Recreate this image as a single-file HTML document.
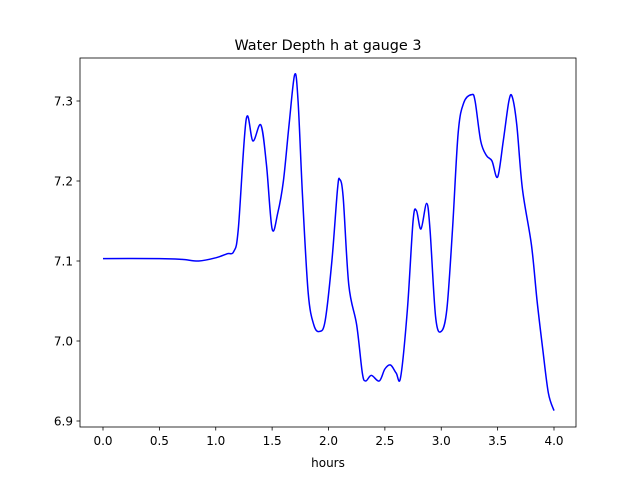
<!DOCTYPE html>
<html><head><meta charset="utf-8"><style>
body{margin:0;background:#fff;}
svg text{font-family:"DejaVu Sans","Liberation Sans",sans-serif;fill:#000;}
</style></head><body>
<svg id="chart" width="640" height="480" xmlns="http://www.w3.org/2000/svg">
<rect width="640" height="480" fill="#fff"/>
<text x="328" y="50" font-size="14.4" text-anchor="middle">Water Depth h at gauge 3</text>
<g id="xt"></g>
<g id="yt"></g>
<path id="line" fill="none" stroke="#0000ff" stroke-width="1.5"/>
<rect x="80" y="58" width="496" height="369" fill="none" stroke="#000" stroke-width="0.8"/>
<text x="328" y="467" font-size="12" text-anchor="middle">hours</text>
</svg>
<script>
const hours=[0,0.5,0.7,0.85,1.0,1.1,1.16,1.2,1.27,1.33,1.4,1.45,1.5,1.55,1.6,1.65,1.7,1.73,1.77,1.82,1.87,1.92,1.97,2.03,2.08,2.1,2.13,2.18,2.25,2.3,2.33,2.38,2.45,2.5,2.55,2.6,2.64,2.7,2.75,2.78,2.82,2.87,2.9,2.95,3.0,3.05,3.1,3.15,3.2,3.27,3.3,3.35,3.4,3.45,3.5,3.55,3.6,3.63,3.67,3.72,3.8,3.85,3.9,3.95,4.0];
const depth=[7.103,7.103,7.102,7.100,7.104,7.109,7.112,7.14,7.277,7.250,7.270,7.22,7.14,7.16,7.20,7.27,7.333,7.30,7.18,7.06,7.02,7.012,7.025,7.10,7.19,7.202,7.18,7.07,7.02,6.96,6.95,6.957,6.95,6.965,6.97,6.96,6.955,7.04,7.15,7.163,7.14,7.172,7.14,7.03,7.012,7.04,7.14,7.26,7.298,7.308,7.30,7.25,7.232,7.225,7.205,7.25,7.30,7.305,7.27,7.19,7.12,7.05,6.99,6.935,6.913];
const xTicks=[0,0.5,1,1.5,2,2.5,3,3.5,4];
const yTicks=[6.9,7.0,7.1,7.2,7.3];
const X=t=>103+t*112.75, Y=v=>261-(v-7.1)*800;
const NS="http://www.w3.org/2000/svg";
function mk(tag,attrs,parent){const e=document.createElementNS(NS,tag);for(const k in attrs)e.setAttribute(k,attrs[k]);parent.appendChild(e);return e;}
const xt=document.getElementById('xt'),yt=document.getElementById('yt');
xTicks.forEach(t=>{
 const l=mk('line',{x1:X(t),x2:X(t),y1:427,y2:430.5,stroke:'#000','stroke-width':0.8},xt);
 
 
 const s=mk('text',{x:X(t),y:445,'font-size':12,'text-anchor':'middle'},xt);
 s.textContent=t.toFixed(1);
 
 
});
yTicks.forEach(v=>{
 const l=mk('line',{x1:76.5,x2:80,y1:Y(v),y2:Y(v),stroke:'#000','stroke-width':0.8},yt);
 
 
 const s=mk('text',{x:73,y:Y(v)+4.5,'font-size':12,'text-anchor':'end'},yt);
 s.textContent=v.toFixed(1);
 
 
});
// Catmull-Rom smoothing
const P=hours.map((t,i)=>[X(t),Y(depth[i])]);
let d='M'+P[0][0]+','+P[0][1];
for(let i=0;i<P.length-1;i++){
 const p0=P[Math.max(0,i-1)],p1=P[i],p2=P[i+1],p3=P[Math.min(P.length-1,i+2)];
 const c1=[p1[0]+(p2[0]-p0[0])/6,p1[1]+(p2[1]-p0[1])/6];
 const c2=[p2[0]-(p3[0]-p1[0])/6,p2[1]-(p3[1]-p1[1])/6];
 d+=` C${c1[0]},${c1[1]} ${c2[0]},${c2[1]} ${p2[0]},${p2[1]}`;
}
document.getElementById('line').setAttribute('d',d);
</script>
</body></html>
